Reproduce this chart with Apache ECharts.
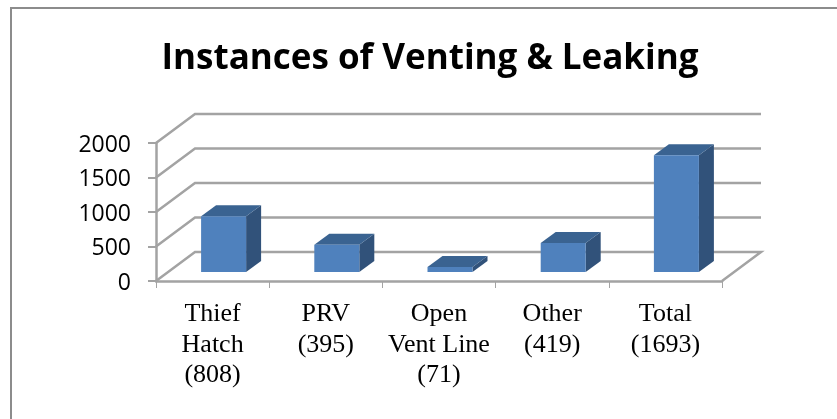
<!DOCTYPE html>
<html>
<head>
<meta charset="utf-8">
<style>
html,body{margin:0;padding:0;background:#fff;}
#chart{width:837px;height:419px;}
</style>
<script src="https://cdn.jsdelivr.net/npm/echarts@6/dist/echarts.min.js"></script>
</head>
<body>
<div id="chart"></div>
<script>
var categories = ['Thief\nHatch\n(808)', 'PRV\n(395)', 'Open\nVent Line\n(71)', 'Other\n(419)', 'Total\n(1693)'];
var counts = [808, 395, 71, 419, 1693];
var yTicks = [0, 500, 1000, 1500, 2000];

// fake 3d look, in px
var WALL_DX = 39, WALL_DY = -29;
var BAR_SHIFT_X = 11, BAR_SHIFT_Y = -9;
var BAR_W = 45, BAR_DX = 15, BAR_DY = -11;

var myChart = echarts.init(document.getElementById('chart'));

function renderWall(params, api) {
	var cs = params.coordSys;
	var y = api.coord([0, api.value(1)])[1];
	var left = cs.x, right = cs.x + cs.width;
	var style = {stroke: '#a3a3a3', lineWidth: 2.5, fill: 'none'};
	var pts = [[left, y], [left + WALL_DX, y + WALL_DY], [right + WALL_DX, y + WALL_DY]];
	if (api.value(1) === 0) pts.push([right, y]);
	return {type: 'polyline', shape: {points: pts}, style: style, silent: true};
}

function renderBar(params, api) {
	var top = api.coord([api.value(0), api.value(1)]);
	var base = api.coord([api.value(0), 0]);
	var x0 = top[0] + BAR_SHIFT_X - BAR_W / 2, x1 = x0 + BAR_W;
	var yTop = top[1] + BAR_SHIFT_Y, yBase = base[1] + BAR_SHIFT_Y;
	return {
		type: 'group',
		children: [
			{type: 'polygon', shape: {points: [[x1, yTop], [x1 + BAR_DX, yTop + BAR_DY], [x1 + BAR_DX, yBase + BAR_DY], [x1, yBase]]}, style: {fill: '#31527a'}},
			{type: 'polygon', shape: {points: [[x0, yTop], [x0 + BAR_DX, yTop + BAR_DY], [x1 + BAR_DX, yTop + BAR_DY], [x1, yTop]]}, style: {fill: '#3a6391'}},
			{type: 'rect', shape: {x: x0, y: yTop, width: BAR_W, height: yBase - yTop}, style: {fill: '#4f81bd'}}
		]
	};
}

var option = {
	animation: false,
	title: {
		text: 'Instances of Venting & Leaking',
		left: 425,
		top: 37,
		textAlign: 'center',
		textStyle: {fontFamily: 'Open Sans', fontWeight: 'bold', fontSize: 35, color: '#000'}
	},
	// chart frame: left and top edges only, the rest is cropped off
	graphic: [{
		type: 'polyline',
		shape: {points: [[11, 419], [11, 8], [837, 8]]},
		style: {fill: 'none', stroke: '#8c8c8c', lineWidth: 2},
		silent: true
	}],
	grid: {left: 156, right: 115, top: 143, bottom: 138},
	xAxis: {
		type: 'category',
		data: categories,
		axisLine: {lineStyle: {color: '#a3a3a3', width: 2.5}},
		axisTick: {show: true, alignWithLabel: false, length: 7, lineStyle: {color: '#a3a3a3', width: 1}},
		axisLabel: {interval: 0, margin: 18, fontFamily: 'Liberation Serif', fontSize: 26, lineHeight: 30.5, color: '#000'}
	},
	yAxis: {
		type: 'value',
		min: 0,
		max: 2000,
		interval: 500,
		splitLine: {show: false},
		axisLine: {show: true, lineStyle: {color: '#a3a3a3', width: 2.5}},
		axisTick: {show: true, length: 8, lineStyle: {color: '#a3a3a3', width: 2}},
		axisLabel: {
			margin: 25,
			formatter: function (v) { return '{n|' + v + '}'; },
			rich: {n: {padding: [4, 0, 0, 0], fontFamily: 'Open Sans', fontSize: 23, color: '#000'}}
		}
	},
	series: [
		{type: 'custom', renderItem: renderWall, clip: false, z: 1, data: yTicks.map(function (t) { return [0, t]; })},
		{type: 'custom', renderItem: renderBar, clip: false, z: 3, data: counts.map(function (v, i) { return [i, v]; })}
	]
};
myChart.setOption(option);
</script>
</body>
</html>
